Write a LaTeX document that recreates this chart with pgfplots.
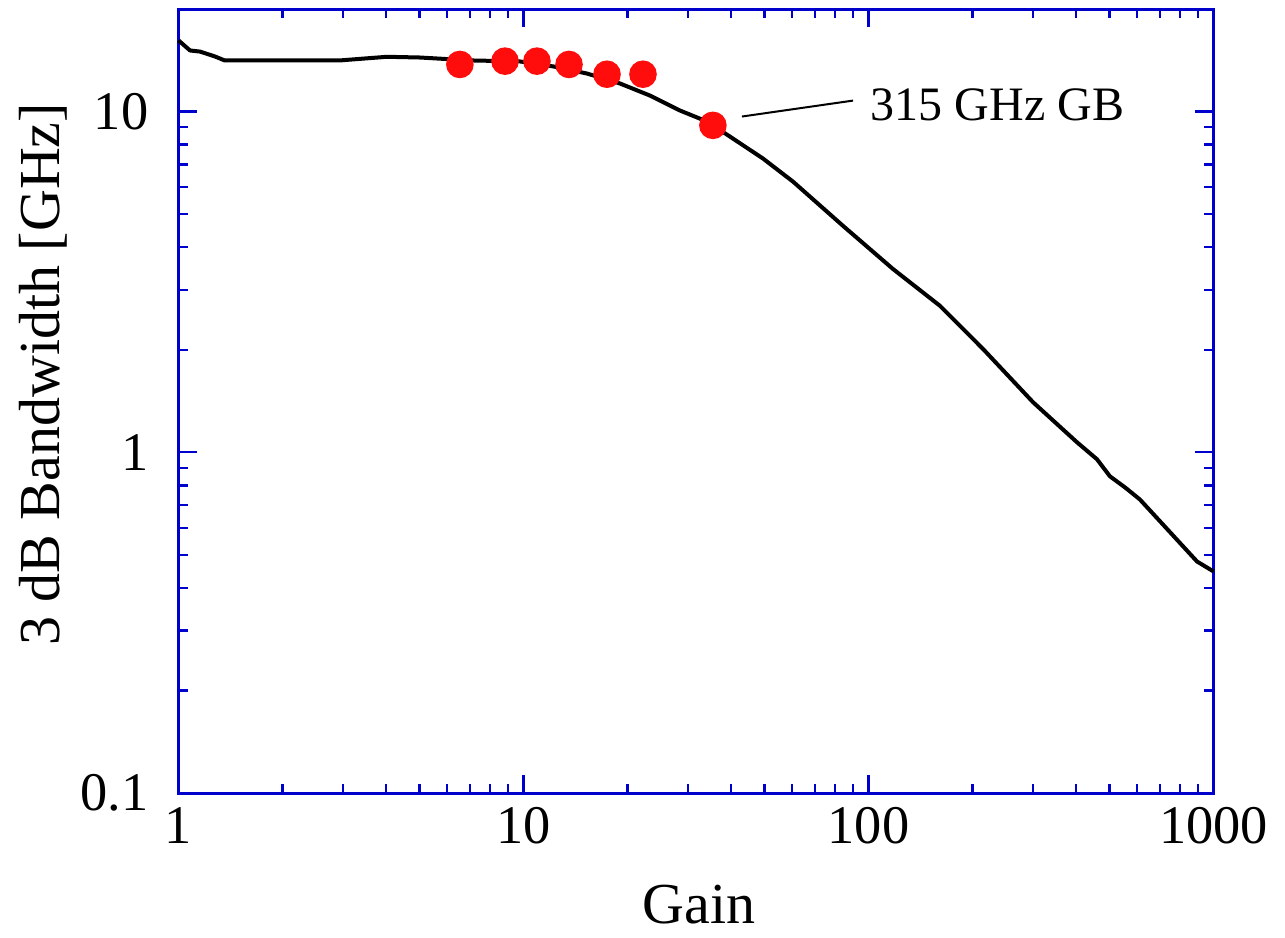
\documentclass[border=0pt]{standalone}
\usepackage{pgfplots}
\pgfplotsset{compat=1.18}
\usepackage{fontspec}
\setmainfont{Liberation Serif}
\definecolor{axblue}{RGB}{0,0,205}
\definecolor{dotred}{RGB}{255,12,12}
\begin{document}
\begin{tikzpicture}
\begin{axis}[
  scale only axis,
  width=258.75pt, height=196pt,
  xmode=log, ymode=log,
  xmin=1, xmax=1000, ymin=0.1, ymax=20,
  axis line style={draw=axblue, line width=0.75pt},
  every tick/.style={draw=axblue, line width=0.6pt},
  tick align=inside,
  major tick length=4.6pt, minor tick length=2.3pt,
  xtick={1,10,100,1000}, xticklabels={1,10,100,1000},
  ytick={0.1,1,10}, yticklabels={0.1,1,10},
  minor xtick={2,3,4,5,6,7,8,9,20,30,40,50,60,70,80,90,200,300,400,500,600,700,800,900},
  minor ytick={0.2,0.3,0.4,0.5,0.6,0.7,0.8,0.9,2,3,4,5,6,7,8,9},
  /pgf/number format/assume math mode=true,
  tick label style={font=\fontsize{13.6}{16}\selectfont},
  yticklabel style={xshift=-4pt},
  xlabel={Gain}, ylabel={3 dB Bandwidth [GHz]},
  label style={font=\fontsize{14.5}{17}\selectfont},
  xlabel style={at={(axis description cs:0.503,-0.167)}, anchor=base},
  ylabel style={at={(axis description cs:-0.1145,0.534)}, anchor=base},
  clip=false,
]
\path (rel axis cs:-0.17246,-0.17985) rectangle (rel axis cs:1.06908,1.01148);
\addplot[black, line width=1pt, line join=round, mark=none] coordinates {
(1,16.18) (1.08,15.11) (1.154,15.0) (1.276,14.51) (1.36,14.13) (1.487,14.13)
(2.94,14.13) (4.02,14.48) (5.01,14.41) (7.0,14.13) (9.77,14.03) (12.18,13.57)
(15.28,12.93) (19.04,12.09) (23.26,11.14) (28.42,10.07) (34.03,9.35) (40.48,8.33)
(49.46,7.28) (60.41,6.23) (84.35,4.62) (117.8,3.45) (161.2,2.69) (214.8,2.01)
(299.8,1.403) (402.1,1.070) (459.5,0.954) (501,0.850) (554,0.789) (612,0.727)
(896,0.478) (1000,0.447)
};
\addplot[only marks, mark=*, mark size=3.25pt, color=dotred, mark options={draw=dotred, fill=dotred}] coordinates {
(6.54,13.75) (8.84,14.06) (10.94,14.06) (13.55,13.75) (17.46,12.87) (22.20,12.87) (35.4,9.11)
};
\draw[black, line width=0.5pt] (axis cs:42.97,9.67) -- (axis cs:90.2,10.77);
\node[anchor=base west, inner sep=0pt, font=\fontsize{12}{14}\selectfont] at (axis cs:101,9.43) {315 GHz GB};
\end{axis}
\end{tikzpicture}
\end{document}
